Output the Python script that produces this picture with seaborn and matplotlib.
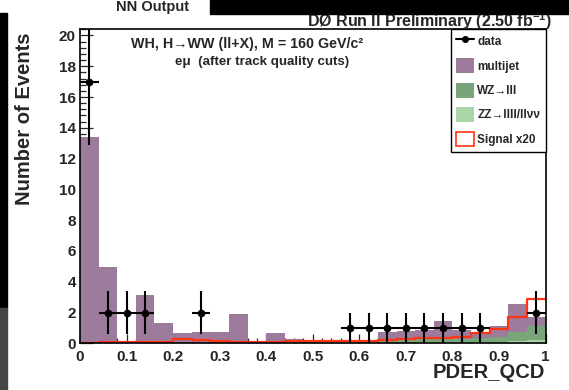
import numpy as np
import pandas as pd
import matplotlib
matplotlib.use("Agg")
import matplotlib.pyplot as plt
from matplotlib.patches import Rectangle, Patch
from matplotlib.lines import Line2D
from matplotlib.ticker import MultipleLocator, FuncFormatter
import seaborn as sns

# ---------------- data ----------------
n_bins = 25
x_min, x_max = 0.0, 1.0
multijet = [13.36, 4.91, 0.07, 3.09, 1.26, 0.65, 0.69, 0.69, 1.87, 0.01, 0.65, 0.18, 0.03,
            0.02, 0.05, 0.07, 0.61, 0.60, 0.60, 1.14, 0.55, 0.25, 0.72, 1.82, 0.60]
wz = [0.03, 0.03, 0.02, 0.03, 0.03, 0.04, 0.04, 0.04, 0.04, 0.03, 0.04, 0.05, 0.05,
      0.06, 0.08, 0.10, 0.11, 0.15, 0.19, 0.24, 0.24, 0.28, 0.32, 0.61, 0.92]
zz = [0.01, 0.01, 0.01, 0.01, 0.01, 0.01, 0.01, 0.01, 0.01, 0.01, 0.01, 0.02, 0.02,
      0.02, 0.02, 0.03, 0.04, 0.05, 0.06, 0.06, 0.06, 0.07, 0.08, 0.12, 0.20]
signal_x20 = [0.05, 0.08, 0.08, 0.06, 0.06, 0.25, 0.22, 0.12, 0.10, 0.10, 0.10, 0.15, 0.12,
              0.12, 0.15, 0.18, 0.22, 0.28, 0.32, 0.36, 0.40, 0.65, 0.92, 1.72, 2.90]
data_counts = [17, 2, 2, 2, 0, 0, 2, 0, 0, 0, 0, 0, 0, 0, 1, 1, 1, 1, 1, 1, 1, 1, 0, 0, 2]

process_names = ["multijet", "WZ→lll", "ZZ→llll/llνν"]
x_label = "PDER_QCD"
y_label = "Number of Events"
title_text = "DØ Run II Preliminary (2.50 fb$^{\\mathbf{-1}}$)"
top_text = "NN Output"
info_line1 = "WH, H→WW (ll+X), M = 160 GeV/c²"
info_line2 = "eμ  (after track quality cuts)"

# ---------------- style ----------------
sns.set_style("ticks")
plt.rcParams["font.family"] = ["Liberation Sans", "DejaVu Sans"]
plt.rcParams["font.weight"] = "bold"
plt.rcParams["mathtext.fontset"] = "custom"
plt.rcParams["mathtext.rm"] = "Liberation Sans"
plt.rcParams["mathtext.bf"] = "Liberation Sans:bold"

edges = np.linspace(x_min, x_max, n_bins + 1)
centers = 0.5 * (edges[:-1] + edges[1:])
bw = edges[1] - edges[0]
bin_list = [float(e) for e in edges]

df = pd.DataFrame({
    "x": np.concatenate([centers] * 3),
    "w": np.concatenate([multijet, wz, zz]),
    "process": np.repeat(process_names, n_bins),
})
colors = {"multijet": "#9c7b9c", "WZ→lll": "#7aa47a", "ZZ→llll/llνν": "#a9d5a9"}
sig_color = "#ff3414"

W, H = 569, 390
fig = plt.figure(figsize=(W / 100, H / 100), dpi=100)
L, R, T, B = 80, 545.5, 28.5, 343.3
ax = fig.add_axes([L / W, 1 - B / H, (R - L) / W, (B - T) / H])

sns.histplot(data=df, x="x", weights="w", hue="process", hue_order=process_names,
             multiple="stack", bins=bin_list, element="step", fill=True, alpha=1,
             linewidth=0, palette=colors, legend=False, ax=ax)
sig_df = pd.DataFrame({"x": centers, "w": signal_x20})
sns.histplot(data=sig_df, x="x", weights="w", bins=bin_list, element="step", fill=False,
             color=sig_color, linewidth=1.6, ax=ax)

d = np.array(data_counts, dtype=float)
m = d > 0
ax.errorbar(centers[m], d[m], xerr=bw / 2, yerr=np.sqrt(d[m]), fmt="o", color="black",
            ms=4.5, elinewidth=1.5, capsize=0, zorder=5)

ax.set_xlim(x_min, x_max)
ax.set_ylim(0, 20.45)
ax.set_xlabel("")
ax.set_ylabel("")

for s in ax.spines.values():
    s.set_linewidth(1.2)
    s.set_color("black")
    s.set_visible(True)

ax.xaxis.set_major_locator(MultipleLocator(0.1))
ax.xaxis.set_minor_locator(MultipleLocator(0.02))
ax.yaxis.set_major_locator(MultipleLocator(2))
ax.yaxis.set_minor_locator(MultipleLocator(0.4))
ax.xaxis.set_major_formatter(FuncFormatter(lambda v, p: f"{v:g}"))
ax.yaxis.set_major_formatter(FuncFormatter(lambda v, p: f"{v:g}"))
ax.tick_params(axis="x", which="major", direction="in", length=6.5, width=0.9,
               labelsize=11, pad=5, top=False)
ax.tick_params(axis="x", which="minor", direction="in", length=3.4, width=0.9, top=False)
ax.tick_params(axis="y", which="major", direction="in", length=9, width=0.9,
               labelsize=11, pad=3, right=False)
ax.tick_params(axis="y", which="minor", direction="in", length=4.3, width=0.9, right=False)
for lab in ax.get_xticklabels() + ax.get_yticklabels():
    lab.set_fontweight("bold")

ax.set_xlabel(x_label, fontsize=14.5, fontweight="bold", loc="right")
ax.xaxis.set_label_coords(1.0, -20.0 / (B - T))
ax.set_ylabel(y_label, fontsize=14.5, fontweight="bold")
ax.yaxis.set_label_coords((34 - L) / (R - L), (B - 119) / (B - T))

ax.text((247 - L) / (R - L), (B - 48.3) / (B - T), info_line1, transform=ax.transAxes,
        ha="center", va="baseline", fontsize=10.3, fontweight="bold")
ax.text((262 - L) / (R - L), (B - 65) / (B - T), info_line2, transform=ax.transAxes,
        ha="center", va="baseline", fontsize=9.6, fontweight="bold")

handles = [
    Line2D([0], [0], color="black", marker="o", ms=4, lw=1.5),
    Patch(facecolor=colors["multijet"], edgecolor="none"),
    Patch(facecolor=colors["WZ→lll"], edgecolor="none"),
    Patch(facecolor=colors["ZZ→llll/llνν"], edgecolor="none"),
    Patch(facecolor="white", edgecolor=sig_color, linewidth=1.2),
]
labels = ["data"] + process_names + ["Signal x20"]
leg = ax.legend(handles, labels, loc="upper right",
                bbox_to_anchor=(R / W, 1 - T / H), bbox_transform=fig.transFigure,
                fontsize=8.5, frameon=True, fancybox=False, borderpad=0.45,
                handlelength=1.55, handleheight=1.55, labelspacing=0.82,
                handletextpad=0.25, borderaxespad=0)
leg.get_frame().set_edgecolor("black")
leg.get_frame().set_linewidth(1.0)
leg.get_frame().set_alpha(1)
for t in leg.get_texts():
    t.set_fontweight("bold")

# title texts
fig.text(552 / W, 1 - 27.3 / H, title_text, ha="right", va="baseline",
         fontsize=11.5, fontweight="bold", zorder=5)
fig.text(153 / W, 1 - 10.5 / H, top_text, ha="center", va="baseline",
         fontsize=10.5, fontweight="bold")

# canvas artifacts
fig.patches.append(Rectangle((210 / W, 1 - 13.5 / H), 1 - 210 / W, 13.5 / H,
                             transform=fig.transFigure, color="black", zorder=10))
fig.patches.append(Rectangle((0, 1 - 308 / H), 7 / W, (308 - 13) / H,
                             transform=fig.transFigure, color="black", zorder=10))
fig.patches.append(Rectangle((0, 0), 7 / W, 1 - 308 / H,
                             transform=fig.transFigure, color="#454545", zorder=10))

fig.savefig("out.png", dpi=100)
